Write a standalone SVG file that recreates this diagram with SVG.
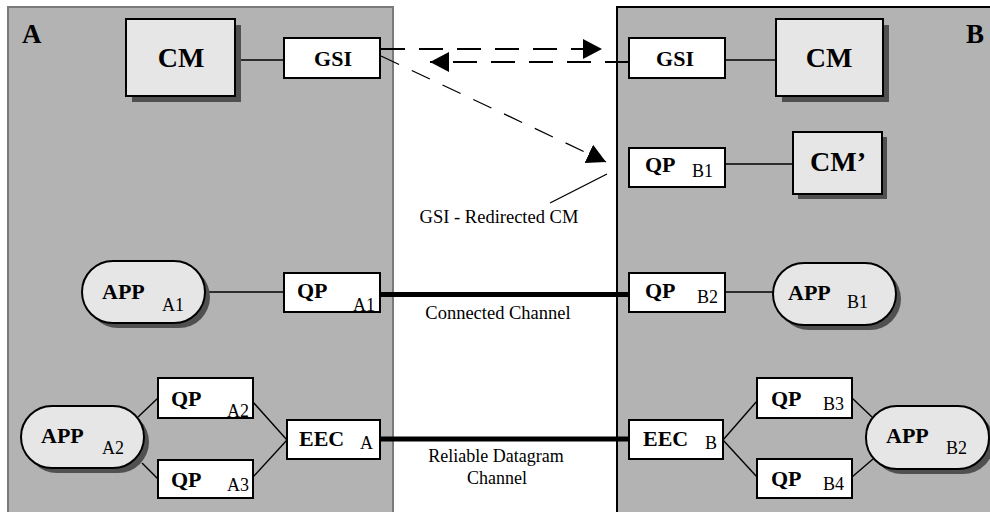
<svg xmlns="http://www.w3.org/2000/svg" width="990" height="512" viewBox="0 0 990 512">
<defs>
<style>
.panelA{fill:#b3b3b3;stroke:#7a7a7a;stroke-width:2}
.panelB{fill:#b3b3b3;stroke:#000;stroke-width:2}
.box{fill:#fff;stroke:#000;stroke-width:2}
.big{fill:#e6e6e6;stroke:#000;stroke-width:2}
.shadow{fill:#505050}
.b{font-family:"Liberation Serif","Times New Roman",serif;font-weight:bold;fill:#000}
.r{font-family:"Liberation Serif","Times New Roman",serif;fill:#000}
.lbl{font-size:22px}
.sub{font-size:18px}
.cm{font-size:28px}
.cap{font-size:18.5px}
.thin{stroke:#000;stroke-width:1.4;fill:none}
.thick{stroke:#000;stroke-width:5;fill:none}
.dash{stroke:#000;stroke-width:2;fill:none;stroke-dasharray:24 14}
.dash2{stroke:#000;stroke-width:1.3;fill:none;stroke-dasharray:20 14}
</style>
<marker id="ah" markerUnits="userSpaceOnUse" markerWidth="20" markerHeight="22" refX="19" refY="10" orient="auto" viewBox="0 0 20 20">
<path d="M0,0 L19,10 L0,20 z" fill="#000"/>
</marker>
</defs>
<rect width="990" height="512" fill="#fff"/>

<g id="panelA">
<rect class="panelA" x="8" y="7" width="385" height="520"/>
<text class="b" x="22" y="43" font-size="27">A</text>
</g>
<g id="panelB">
<rect class="panelB" x="617" y="7" width="390" height="520"/>
<text class="b" x="966" y="43" font-size="27">B</text>
</g>

<g id="connectors">
<line class="thin" x1="235" y1="60" x2="284" y2="60"/>
<line class="thin" x1="725" y1="60" x2="776" y2="60"/>
<line class="thin" x1="725" y1="164" x2="793" y2="164"/>
<line class="dash" x1="381" y1="49" x2="602" y2="49" marker-end="url(#ah)"/>
<line class="dash" x1="629" y1="62" x2="430" y2="62" marker-end="url(#ah)"/>
<line class="dash2" x1="381" y1="56" x2="606" y2="162" marker-end="url(#ah)"/>
<line class="thin" x1="550" y1="203" x2="607" y2="174" stroke-width="1"/>
<line class="thin" x1="205" y1="292" x2="284" y2="292"/>
<line class="thin" x1="725" y1="292" x2="773" y2="292"/>
<line class="thick" x1="380" y1="294.5" x2="629" y2="294.5"/>
<line class="thick" x1="380" y1="439" x2="629" y2="439"/>
<line class="thin" x1="138" y1="417" x2="158" y2="398"/>
<line class="thin" x1="142" y1="463" x2="158" y2="479"/>
<line class="thin" x1="253" y1="402" x2="287" y2="440"/>
<line class="thin" x1="253" y1="477" x2="287" y2="440"/>
<line class="thin" x1="723" y1="440" x2="757" y2="401"/>
<line class="thin" x1="723" y1="440" x2="757" y2="477"/>
<line class="thin" x1="852" y1="398" x2="872" y2="417"/>
<line class="thin" x1="852" y1="477" x2="873" y2="459"/>
</g>

<g id="cmA">
<rect class="shadow" x="132" y="25" width="109" height="77"/>
<rect class="big" x="126" y="19" width="109" height="77"/>
<text class="b cm" x="181" y="67" text-anchor="middle">CM</text>
</g>
<g id="gsiA">
<rect class="box" x="284" y="38" width="96" height="40"/>
<text class="b lbl" x="333" y="66" text-anchor="middle">GSI</text>
</g>
<g id="gsiB">
<rect class="box" x="629" y="38" width="96" height="40"/>
<text class="b lbl" x="675" y="66" text-anchor="middle">GSI</text>
</g>
<g id="cmB">
<rect class="shadow" x="782" y="25" width="107" height="77"/>
<rect class="big" x="776" y="19" width="107" height="77"/>
<text class="b cm" x="829" y="67" text-anchor="middle">CM</text>
</g>
<g id="qpB1">
<rect class="box" x="629" y="148" width="96" height="39"/>
<text class="b lbl" x="645" y="172">QP</text>
<text class="r sub" x="692" y="177">B1</text>
</g>
<g id="cmPrime">
<rect class="shadow" x="798" y="137" width="89" height="62"/>
<rect class="big" x="793" y="132" width="89" height="62"/>
<text class="b cm" x="838" y="171" text-anchor="middle">CM’</text>
</g>
<g id="redirectLabel">
<text class="r cap" x="499" y="223" text-anchor="middle">GSI - Redirected CM</text>
</g>

<g id="appA1">
<rect class="shadow" x="87" y="266" width="123" height="62" rx="31"/>
<rect class="big" x="82" y="261" width="123" height="62" rx="31"/>
<text class="b lbl" x="102" y="299">APP</text>
<text class="r sub" x="162" y="311">A1</text>
</g>
<g id="qpA1">
<rect class="box" x="284" y="273" width="96" height="39"/>
<text class="b lbl" x="297" y="298">QP</text>
<text class="r sub" x="353" y="311">A1</text>
</g>
<g id="qpB2">
<rect class="box" x="629" y="273" width="96" height="39"/>
<text class="b lbl" x="645" y="298">QP</text>
<text class="r sub" x="697" y="303">B2</text>
</g>
<g id="appB1">
<rect class="shadow" x="778" y="268" width="123" height="62" rx="31"/>
<rect class="big" x="773" y="263" width="123" height="62" rx="31"/>
<text class="b lbl" x="788" y="300">APP</text>
<text class="r sub" x="847" y="308">B1</text>
</g>
<g id="connectedLabel">
<text class="r cap" x="498" y="319" text-anchor="middle">Connected Channel</text>
</g>

<g id="appA2">
<rect class="shadow" x="26" y="411" width="123" height="62" rx="31"/>
<rect class="big" x="21" y="406" width="123" height="62" rx="31"/>
<text class="b lbl" x="41" y="443">APP</text>
<text class="r sub" x="102" y="454">A2</text>
</g>
<g id="qpA2">
<rect class="box" x="158" y="378" width="95" height="40"/>
<text class="b lbl" x="171" y="406">QP</text>
<text class="r sub" x="227" y="417">A2</text>
</g>
<g id="qpA3">
<rect class="box" x="158" y="460" width="95" height="38"/>
<text class="b lbl" x="171" y="487">QP</text>
<text class="r sub" x="227" y="491">A3</text>
</g>
<g id="eecA">
<rect class="box" x="287" y="420" width="93" height="39"/>
<text class="b lbl" x="299" y="446">EEC</text>
<text class="r sub" x="360" y="449">A</text>
</g>
<g id="eecB">
<rect class="box" x="629" y="420" width="94" height="39"/>
<text class="b lbl" x="643" y="446">EEC</text>
<text class="r sub" x="705" y="449">B</text>
</g>
<g id="qpB3">
<rect class="box" x="757" y="378" width="95" height="40"/>
<text class="b lbl" x="771" y="406">QP</text>
<text class="r sub" x="823" y="410">B3</text>
</g>
<g id="qpB4">
<rect class="box" x="757" y="459" width="95" height="39"/>
<text class="b lbl" x="771" y="486">QP</text>
<text class="r sub" x="823" y="490">B4</text>
</g>
<g id="appB2">
<rect class="shadow" x="871" y="411" width="123" height="63" rx="31"/>
<rect class="big" x="866" y="406" width="123" height="63" rx="31"/>
<text class="b lbl" x="886" y="443">APP</text>
<text class="r sub" x="946" y="454">B2</text>
</g>
<g id="datagramLabel">
<text class="r" font-size="18" x="496" y="462" text-anchor="middle">Reliable Datagram</text>
<text class="r" font-size="18" x="497" y="484" text-anchor="middle">Channel</text>
</g>
</svg>
